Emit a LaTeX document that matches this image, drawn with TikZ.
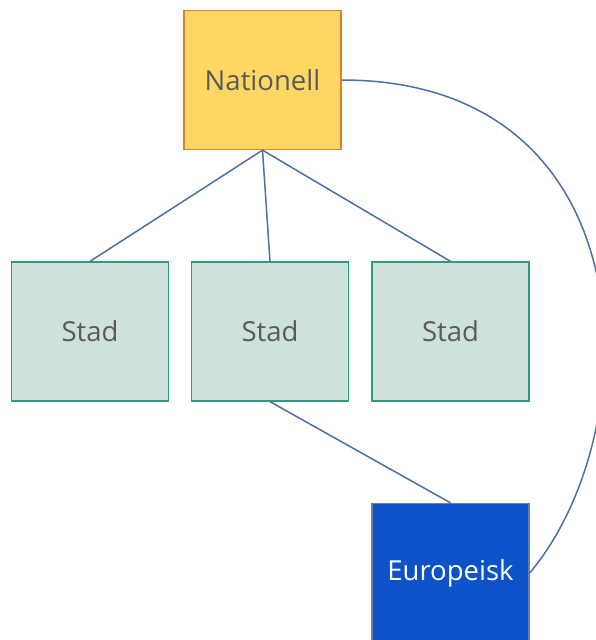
\documentclass[tikz,border=0pt]{standalone}
\usepackage{fontspec}
\setmainfont{Open Sans}
\definecolor{natfill}{HTML}{FDD663}
\definecolor{natdraw}{HTML}{E0812A}
\definecolor{stadfill}{HTML}{CFE2D9}
\definecolor{staddraw}{HTML}{2F9A80}
\definecolor{eufill}{HTML}{0D52C9}
\definecolor{eudraw}{HTML}{6A7DB0}
\definecolor{linkcol}{HTML}{4C6FA8}
\definecolor{txtgray}{HTML}{5A5A5A}
\tikzset{
  box/.style={rectangle, minimum width=157pt, minimum height=139pt, line width=1.3pt, inner sep=0pt, font=\fontsize{27.5}{32}\selectfont},
  natbox/.style={box, fill=natfill, draw=natdraw, text=txtgray},
  stadbox/.style={box, fill=stadfill, draw=staddraw, text=txtgray},
  eubox/.style={box, fill=eufill, draw=eudraw, text=white},
  link/.style={draw=linkcol, line width=1.5pt}
}
\begin{document}
\begin{tikzpicture}[x=1pt,y=-1pt]
\useasboundingbox (0,0) rectangle (596,640);
\begin{scope}
\clip (0,0) rectangle (596,640);
\node[natbox] (nat) at (262.5,80) {Nationell};
\node[stadbox] (s1) at (90,331.5) {Stad};
\node[stadbox] (s2) at (270,331.5) {Stad};
\node[stadbox] (s3) at (450.5,331.5) {Stad};
\node[eubox] (eu) at (450.5,573) {Europeisk};
\draw[link] (nat.south) -- (s1.north);
\draw[link] (nat.south) -- (s2.north);
\draw[link] (nat.south) -- (s3.north);
\draw[link] (s2.south) -- (eu.north);
\draw[link] (nat.east) .. controls (650,80) and (650,430) .. (eu.east);
\end{scope}
\end{tikzpicture}
\end{document}
